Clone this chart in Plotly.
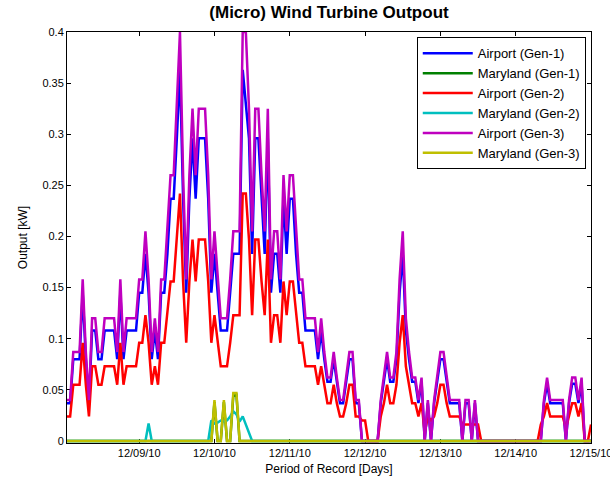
import pandas as pd
import plotly.graph_objects as go

# Hourly timestamps: 12/08/10 01:00 through 12/15/10 00:00
hours = pd.date_range("2010-12-08 01:00", periods=168, freq="h")

# Turbine output [kW], one row per day (24 hourly readings)
airport_gen1 = [
    .037, .037, .08, .08, .08, .145, .08, .037, .108, .108, .08, .08, .108, .108, .108, .108, .08, .145, .08, .108, .108, .108, .108, .145,
    .145, .183, .145, .08, .108, .08, .145, .145, .183, .237, .237, .296, .363, .237, .145, .237, .296, .237, .296, .296, .296, .237, .145, .183,
    .145, .108, .108, .108, .145, .183, .183, .183, .363, .33, .296, .183, .296, .296, .237, .183, .296, .145, .183, .183, .145, .237, .183, .237,
    .237, .183, .145, .145, .108, .108, .108, .108, .08, .108, .08, .058, .058, .08, .058, .037, .037, .058, .08, .08, .037, .037, 0, 0,
    0, 0, 0, 0, .037, .058, .08, .058, .058, .08, .145, .183, .108, .08, .058, .058, .037, .058, 0, .037, 0, .037, .058, .08,
    .08, .058, .037, .037, .037, .037, 0, .037, .037, 0, .037, 0, 0, 0, 0, 0, 0, 0, 0, 0, 0, 0, 0, 0,
    0, 0, 0, 0, 0, 0, 0, 0, .037, .056, .037, .037, .037, .037, .037, 0, .037, .056, .056, .037, .056, 0, 0, 0,
]
airport_gen2 = [
    .024, .024, .055, .055, .055, .096, .055, .024, .073, .073, .055, .055, .073, .073, .073, .073, .055, .096, .055, .073, .073, .073, .073, .096,
    .096, .123, .096, .055, .073, .055, .096, .096, .123, .156, .156, .197, .242, .156, .096, .156, .197, .156, .197, .197, .197, .156, .096, .123,
    .096, .073, .073, .073, .096, .123, .123, .123, .242, .242, .197, .123, .197, .197, .156, .123, .197, .096, .123, .123, .096, .156, .123, .156,
    .156, .123, .096, .096, .073, .073, .073, .073, .055, .073, .055, .037, .037, .055, .037, .024, .024, .037, .055, .055, .024, .024, .02, .02,
    0, 0, 0, 0, .024, .037, .055, .037, .037, .055, .096, .123, .073, .055, .037, .037, .024, .037, .008, .024, .02, .024, .037, .055,
    .055, .037, .024, .024, .024, .024, .016, .016, .016, .016, .016, .016, 0, 0, 0, 0, 0, 0, 0, 0, 0, 0, 0, 0,
    0, 0, 0, 0, 0, 0, 0, .016, .024, .037, .024, .024, .024, .024, .024, .012, .024, .037, .037, .024, .037, 0, 0, .016,
]
airport_gen3 = [
    .04, .04, .087, .087, .087, .158, .087, .04, .12, .12, .087, .087, .12, .12, .12, .12, .087, .158, .087, .12, .12, .12, .12, .158,
    .158, .205, .158, .087, .12, .087, .158, .158, .205, .26, .26, .325, .4, .26, .158, .26, .325, .26, .325, .325, .325, .26, .158, .205,
    .158, .12, .12, .12, .158, .205, .205, .205, .4, .4, .325, .205, .325, .325, .26, .205, .325, .158, .205, .205, .158, .26, .205, .26,
    .26, .205, .158, .158, .12, .12, .12, .12, .087, .12, .087, .062, .062, .087, .062, .04, .04, .062, .087, .087, .04, .04, 0, 0,
    0, 0, 0, 0, .04, .062, .087, .062, .062, .087, .158, .205, .12, .087, .062, .062, .04, .062, 0, .04, 0, .04, .062, .087,
    .087, .062, .04, .04, .04, .04, 0, .04, .04, 0, .04, 0, 0, 0, 0, 0, 0, 0, 0, 0, 0, 0, 0, 0,
    0, 0, 0, 0, 0, 0, 0, 0, .04, .062, .04, .04, .04, .04, .04, 0, .04, .062, .062, .04, .062, 0, 0, 0,
]
maryland_gen1 = [
    0, 0, 0, 0, 0, 0, 0, 0, 0, 0, 0, 0, 0, 0, 0, 0, 0, 0, 0, 0, 0, 0, 0, 0,
    0, 0, 0, 0, 0, 0, 0, 0, 0, 0, 0, 0, 0, 0, 0, 0, 0, 0, 0, 0, 0, 0, 0, .038,
    0, 0, .038, 0, 0, .044, .045, 0, 0, 0, 0, 0, 0, 0, 0, 0, 0, 0, 0, 0, 0, 0, 0, 0,
    0, 0, 0, 0, 0, 0, 0, 0, 0, 0, 0, 0, 0, 0, 0, 0, 0, 0, 0, 0, 0, 0, 0, 0,
    0, 0, 0, 0, 0, 0, 0, 0, 0, 0, 0, 0, 0, 0, 0, 0, 0, 0, 0, 0, 0, 0, 0, 0,
    0, 0, 0, 0, 0, 0, 0, 0, 0, 0, 0, 0, 0, 0, 0, 0, 0, 0, 0, 0, 0, 0, 0, 0,
    0, 0, 0, 0, 0, 0, 0, 0, 0, 0, 0, 0, 0, 0, 0, 0, 0, 0, 0, 0, 0, 0, 0, 0,
]
maryland_gen2 = [
    0, 0, 0, 0, 0, 0, 0, 0, 0, 0, 0, 0, 0, 0, 0, 0, 0, 0, 0, 0, 0, 0, 0, 0,
    0, 0, .017, 0, 0, 0, 0, 0, 0, 0, 0, 0, 0, 0, 0, 0, 0, 0, 0, 0, 0, 0, .02, .017,
    .018, .02, .019, .02, .024, .029, .026, .019, .024, .016, .006, 0, 0, 0, 0, 0, 0, 0, 0, 0, 0, 0, 0, 0,
    0, 0, 0, 0, 0, 0, 0, 0, 0, 0, 0, 0, 0, 0, 0, 0, 0, 0, 0, 0, 0, 0, 0, 0,
    0, 0, 0, 0, 0, 0, 0, 0, 0, 0, 0, 0, 0, 0, 0, 0, 0, 0, 0, 0, 0, 0, 0, 0,
    0, 0, 0, 0, 0, 0, 0, 0, 0, 0, 0, 0, 0, 0, 0, 0, 0, 0, 0, 0, 0, 0, 0, 0,
    0, 0, 0, 0, 0, 0, 0, 0, 0, 0, 0, 0, 0, 0, 0, 0, 0, 0, 0, 0, 0, 0, 0, 0,
]
maryland_gen3 = [
    0, 0, 0, 0, 0, 0, 0, 0, 0, 0, 0, 0, 0, 0, 0, 0, 0, 0, 0, 0, 0, 0, 0, 0,
    0, 0, 0, 0, 0, 0, 0, 0, 0, 0, 0, 0, 0, 0, 0, 0, 0, 0, 0, 0, 0, 0, 0, .04,
    0, 0, .04, 0, 0, .047, .047, 0, 0, 0, 0, 0, 0, 0, 0, 0, 0, 0, 0, 0, 0, 0, 0, 0,
    0, 0, 0, 0, 0, 0, 0, 0, 0, 0, 0, 0, 0, 0, 0, 0, 0, 0, 0, 0, 0, 0, 0, 0,
    0, 0, 0, 0, 0, 0, 0, 0, 0, 0, 0, 0, 0, 0, 0, 0, 0, 0, 0, 0, 0, 0, 0, 0,
    0, 0, 0, 0, 0, 0, 0, 0, 0, 0, 0, 0, 0, 0, 0, 0, 0, 0, 0, 0, 0, 0, 0, 0,
    0, 0, 0, 0, 0, 0, 0, 0, 0, 0, 0, 0, 0, 0, 0, 0, 0, 0, 0, 0, 0, 0, 0, 0,
]

series_names = ["Airport (Gen-1)", "Maryland (Gen-1)", "Airport (Gen-2)",
                "Maryland (Gen-2)", "Airport (Gen-3)", "Maryland (Gen-3)"]
series_values = [airport_gen1, maryland_gen1, airport_gen2,
                 maryland_gen2, airport_gen3, maryland_gen3]
series_colors = ["#0000FF", "#008000", "#FF0000", "#00BFBF", "#BF00BF", "#BFBF00"]

day_ticks = pd.date_range("2010-12-09", "2010-12-15", freq="D")

FONT = "Arial, Liberation Sans, sans-serif"

fig = go.Figure()
for name, vals, color in zip(series_names, series_values, series_colors):
    fig.add_trace(go.Scatter(x=hours, y=vals, mode="lines", name=name,
                             line=dict(color=color, width=2.5)))

fig.update_layout(
    width=610, height=485,
    margin=dict(l=67, r=19, t=32, b=42, autoexpand=False),
    paper_bgcolor="white", plot_bgcolor="white",
    font=dict(family=FONT, color="black", size=11),
    title=dict(text="<b>(Micro) Wind Turbine Outpout</b>", x=0.5, xref="paper",
               y=1 - 12 / 485, yref="container", yanchor="middle",
               font=dict(size=17, family=FONT, color="black")),
    showlegend=True,
    legend=dict(x=0.99, xanchor="right", y=0.987, yanchor="top",
                bgcolor="white", bordercolor="black", borderwidth=1,
                font=dict(size=13, family=FONT), itemwidth=50,
                tracegroupgap=0),
)
fig.update_xaxes(
    range=[hours[0], hours[-1]],
    tickvals=day_ticks, tickformat="%m/%d/%y", ticklabeloverflow="allow",
    automargin=False,
    ticks="inside", ticklen=4, tickcolor="black",
    showline=True, linecolor="black", linewidth=1, mirror="ticks",
    showgrid=False, zeroline=False, layer="below traces",
    title=dict(text="Period of Record [Days]", font=dict(size=12, family=FONT), standoff=6),
    tickfont=dict(size=11, family=FONT),
)
fig.update_yaxes(
    range=[-0.002, 0.4], dtick=0.05, tick0=0,
    automargin=False,
    ticks="inside", ticklen=4, tickcolor="black",
    showline=True, linecolor="black", linewidth=1, mirror="ticks",
    showgrid=False, zeroline=False, layer="below traces",
    title=dict(text="Output [kW]", font=dict(size=12, family=FONT), standoff=12),
    tickfont=dict(size=11, family=FONT),
)

fig.write_html("out.html")
